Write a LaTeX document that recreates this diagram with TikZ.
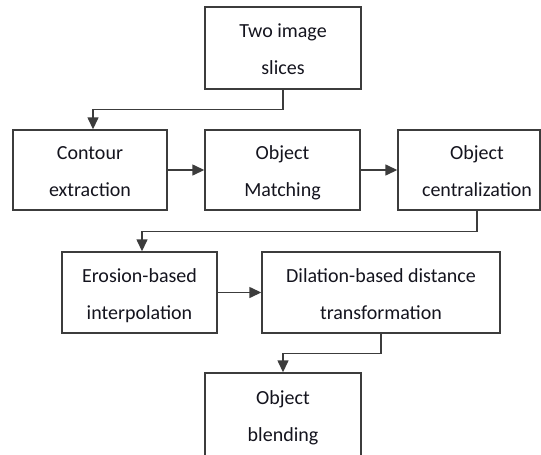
\documentclass[tikz,border=0pt]{standalone}
\usepackage{fontspec}
\setmainfont{Carlito}
\usetikzlibrary{arrows.meta,calc}
\definecolor{boxline}{RGB}{60,60,60}
\definecolor{txt}{RGB}{20,20,30}
\newcommand\fstrut{\rule[-4pt]{0pt}{24pt}}
\begin{document}
\begin{tikzpicture}[x=1pt,y=-1pt,
  box/.style={draw=boxline,line width=1.4pt,minimum height=81pt,inner sep=0pt,
    align=center,text=txt,font=\fontsize{20pt}{37pt}\selectfont},
  lbl/.style={inner sep=0pt,align=center,text=txt,font=\fontsize{20pt}{37pt}\selectfont},
  conn/.style={draw=boxline,line width=1.4pt,-{Triangle[length=12pt,width=11pt]}}]
\clip (0,0) rectangle (541,455);
\fill[white] (0,0) rectangle (541,455);
\node[box,minimum width=156pt,minimum height=82pt] (top) at (283,48) {\fstrut Two image\\\fstrut slices};
\node[box,minimum width=154pt,minimum height=80pt] (contour) at (90,170) {\fstrut Contour\\\fstrut extraction};
\node[box,minimum width=155pt,minimum height=80pt] (match) at (282.5,170) {\fstrut Object\\\fstrut Matching};
\node[box,minimum width=142pt,minimum height=80pt] (central) at (469,170) {};
\node[lbl] (centraltext) at (477,170) {\fstrut Object\\\fstrut centralization};
\node[box,minimum width=155pt] (erosion) at (139.5,292.5) {\fstrut Erosion-based\\\fstrut interpolation};
\node[box,minimum width=238pt] (dilation) at (381,292.5) {\fstrut Dilation-based distance\\\fstrut transformation};
\node[box,minimum width=156pt,minimum height=84pt] (blend) at (283,415) {\fstrut Object\\\fstrut blending};
\draw[conn] (top.south) -- ++(0,20) -| ($(contour.north)+(3,0)$);
\draw[conn] (contour.east) -- (match.west);
\draw[conn] (match.east) -- (central.west);
\draw[conn] ($(central.south)+(8,0)$) -- ++(0,21) -| ($(erosion.north)+(2.5,0)$);
\draw[conn] (erosion.east) -- (dilation.west);
\draw[conn] (dilation.south) -- ++(0,20) -| (blend.north);
\end{tikzpicture}
\end{document}
